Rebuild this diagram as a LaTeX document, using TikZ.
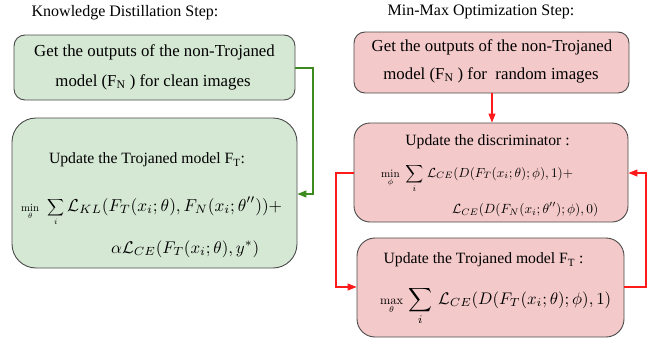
\documentclass[tikz,border=0pt]{standalone}
\usepackage{graphicx}
\usepackage[no-math]{fontspec}
\setmainfont{Liberation Serif}
\usetikzlibrary{arrows.meta}
\definecolor{gfill}{HTML}{D5E8D4}
\definecolor{rfill}{HTML}{F4C9C9}
\definecolor{bstroke}{HTML}{4A4A4A}
\definecolor{garrow}{HTML}{3D8B1F}
\definecolor{rarrow}{HTML}{FF1A1A}
\newcommand{\fitmath}[2]{\resizebox{#1}{!}{$\displaystyle #2$}}
\tikzset{
  gbox/.style={draw=bstroke, fill=gfill, line width=0.9pt},
  rbox/.style={draw=bstroke, fill=rfill, line width=0.9pt},
  ttl/.style={inner sep=0pt, font=\fontsize{16}{19}\selectfont},
  txt/.style={inner sep=0pt, font=\fontsize{16.8}{20}\selectfont},
  upd/.style={inner sep=0pt, font=\fontsize{15.7}{19}\selectfont},
  mth/.style={inner sep=0pt, font=\normalsize, anchor=base west},
  garr/.style={draw=garrow, line width=1.1pt, -{Triangle[length=9pt,width=7pt]}},
  rarr/.style={draw=rarrow, line width=1.1pt, -{Triangle[length=9pt,width=7pt]}},
}
\begin{document}
\begin{tikzpicture}[x=1pt,y=-1pt]
\useasboundingbox (0,0) rectangle (656,343);
% titles
\node[ttl] (t1) at (125,13) {Knowledge Distillation Step:};
\node[ttl] (t2) at (481,12) {Min-Max Optimization Step:};
% left boxes
\node[gbox, rounded corners=11pt, minimum width=281pt, minimum height=65pt] (L1) at (154.5,67.5) {};
\node[gbox, rounded corners=24pt, minimum width=285pt, minimum height=150pt] (L2) at (154.5,193) {};
\node[txt] (L1a) at (154.5,52) {Get the outputs of the non-Trojaned};
\node[txt] (L1b) at (153,82) {model (F\textsubscript{N} ) for clean images};
\node[upd] (L2a) at (147,160) {Update the Trojaned model F\textsubscript{T}:};
\node[mth] (L2b) at (21,211) {\fitmath{18pt}{\min_\theta}\hspace{8pt}\fitmath{17pt}{\sum_i}\hspace{3pt}\fitmath{215pt}{\mathcal{L}_{KL}(F_T(x_i;\theta),F_N(x_i;\theta''))+}};
\node[mth] (L2c) at (111,253) {\fitmath{148pt}{\alpha\mathcal{L}_{CE}(F_T(x_i;\theta),y^*)}};
% right boxes
\node[rbox, rounded corners=11pt, minimum width=275pt, minimum height=61pt] (R1) at (491.5,62.5) {};
\node[rbox, rounded corners=16pt, minimum width=274pt, minimum height=99pt] (R2) at (491,172.5) {};
\node[rbox, rounded corners=18pt, minimum width=267pt, minimum height=99pt] (R3) at (490.5,287.5) {};
\node[txt] (R1a) at (492,47) {Get the outputs of the non-Trojaned};
\node[txt] (R1b) at (491,75) {model (F\textsubscript{N} ) for\ \ random images};
\node[upd] (R2a) at (487.5,142) {Update the discriminator :};
\node[mth] (R2b) at (381,177) {\fitmath{18.5pt}{\min_\phi}\hspace{5.7pt}\fitmath{18pt}{\sum_i}\hspace{3.7pt}\fitmath{146pt}{\mathcal{L}_{CE}(D(F_T(x_i;\theta);\phi),1)+}};
\node[mth] (R2c) at (452,213) {\fitmath{146pt}{\mathcal{L}_{CE}(D(F_N(x_i;\theta'');\phi),0)}};
\node[upd] (R3a) at (483.5,260) {Update the Trojaned model F\textsubscript{T} :};
\node[mth] (R3b) at (380,304) {\fitmath{23pt}{\max_\theta}\hspace{5pt}\fitmath{24pt}{\sum_i}\hspace{6pt}\fitmath{173pt}{\mathcal{L}_{CE}(D(F_T(x_i;\theta);\phi),1)}};
% connectors
\coordinate (gc1) at (313,68);
\coordinate (gc2) at (313,194);
\draw[garr] (L1.east |- gc1) -- (gc1) -- (gc2) -- (L2.east |- gc2);
\draw[rarr] (R1.south -| 492,0) -- (R2.north -| 492,0);
\coordinate (lc1) at (336,173);
\coordinate (lc2) at (336,287);
\draw[rarr] (R2.west |- lc1) -- (lc1) -- (lc2) -- (R3.west |- lc2);
\coordinate (rc1) at (646,287);
\coordinate (rc2) at (646,173);
\draw[rarr] (R3.east |- rc1) -- (rc1) -- (rc2) -- (R2.east |- rc2);
\end{tikzpicture}
\end{document}
